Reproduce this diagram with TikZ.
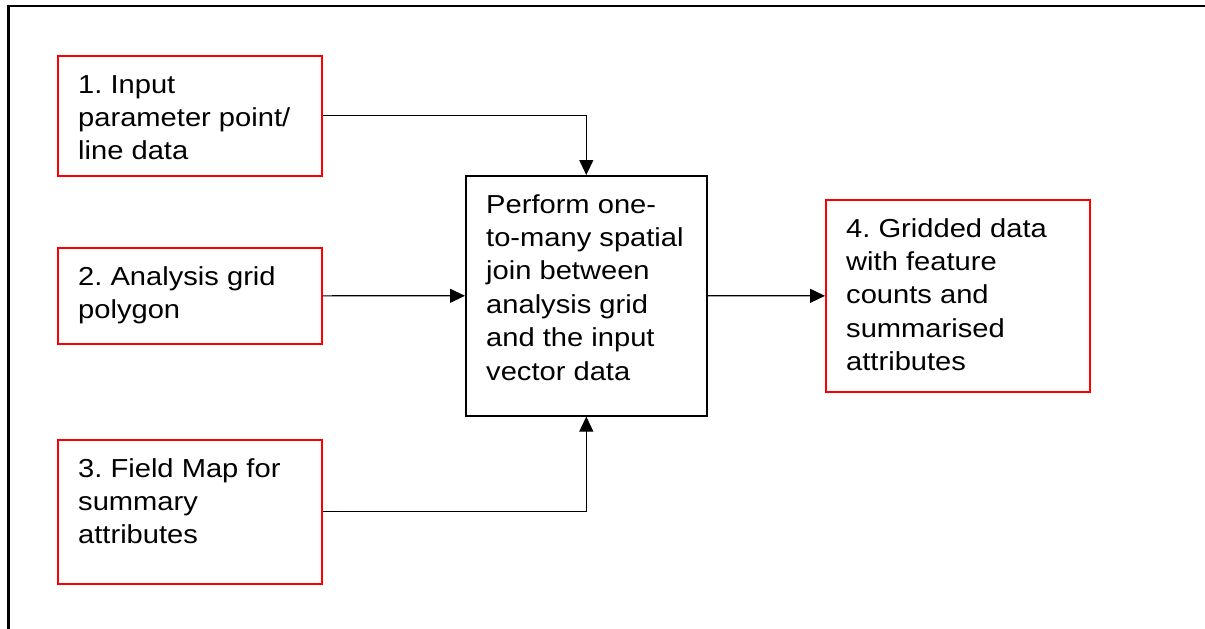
\documentclass[tikz,border=0pt]{standalone}
\usepackage{fontspec}
\setmainfont[FakeStretch=1.12]{Liberation Sans}
\usetikzlibrary{arrows.meta,calc}

\definecolor{boxred}{RGB}{255,0,0}

\tikzset{
  inbox/.style={draw=boxred, line width=1.7pt, inner sep=0pt, anchor=north west},
  procbox/.style={draw=black, line width=1.6pt, inner sep=0pt, anchor=north west},
  boxtext/.style={inner sep=0pt, anchor=base west,
    font=\fontsize{26pt}{33.4pt}\selectfont\frenchspacing},
  flow/.style={draw=black, line width=1.2pt,
    -{Triangle[length=15pt,width=14pt]}},
  frameline/.style={draw=black, line width=2.6pt}
}

% stack lines so that the box baseline is the first line's baseline
\newcommand{\stacklines}[1]{\vtop{\baselineskip=33.4pt\lineskiplimit=-100pt\halign{##\hfil\cr#1\crcr}}}

\begin{document}
\begin{tikzpicture}[x=1pt,y=-1pt]
  \useasboundingbox (0,0) rectangle (1205,629);

  % outer frame (top and left edges)
  \coordinate (fr) at (1205,5.8);
  \coordinate (ftl) at (8.2,5.8);
  \coordinate (fb) at (8.2,629);
  \draw[frameline] (fr) -- (ftl) -- (fb);

  % input boxes
  \node[inbox, minimum width=264pt, minimum height=120pt] (b1) at (57,55) {};
  \node[inbox, minimum width=264pt, minimum height=96pt]  (b2) at (57,247) {};
  \node[inbox, minimum width=264pt, minimum height=144pt] (b3) at (57,439) {};

  % processing step
  \node[procbox, minimum width=241pt, minimum height=240pt] (p) at (465,175) {};

  % output box
  \node[inbox, minimum width=264pt, minimum height=192pt] (b4) at (825,199) {};

  % texts
  \node[boxtext] (t1) at ($(b1.north west)+(21,38)$)
    {\stacklines{1. Input\cr parameter point/\cr line data}};
  \node[boxtext] (t2) at ($(b2.north west)+(21,38)$)
    {\stacklines{2. Analysis grid\cr polygon}};
  \node[boxtext] (t3) at ($(b3.north west)+(21,38)$)
    {\stacklines{3. Field Map for\cr summary\cr attributes}};
  \node[boxtext] (tp) at ($(p.north west)+(21,38)$)
    {\stacklines{Perform one-\cr to-many spatial\cr join between\cr analysis grid\cr and the input\cr vector data}};
  \node[boxtext] (t4) at ($(b4.north west)+(21,38)$)
    {\stacklines{4. Gridded data\cr with feature\cr counts and\cr summarised\cr attributes}};

  % connectors
  \draw[flow] (b1.east) -| (p.north);
  \draw[flow] (b2.east) -- (p.west);
  \draw[flow] (b3.east) -| (p.south);
  \draw[flow] (p.east) -- (b4.west);
\end{tikzpicture}
\end{document}
